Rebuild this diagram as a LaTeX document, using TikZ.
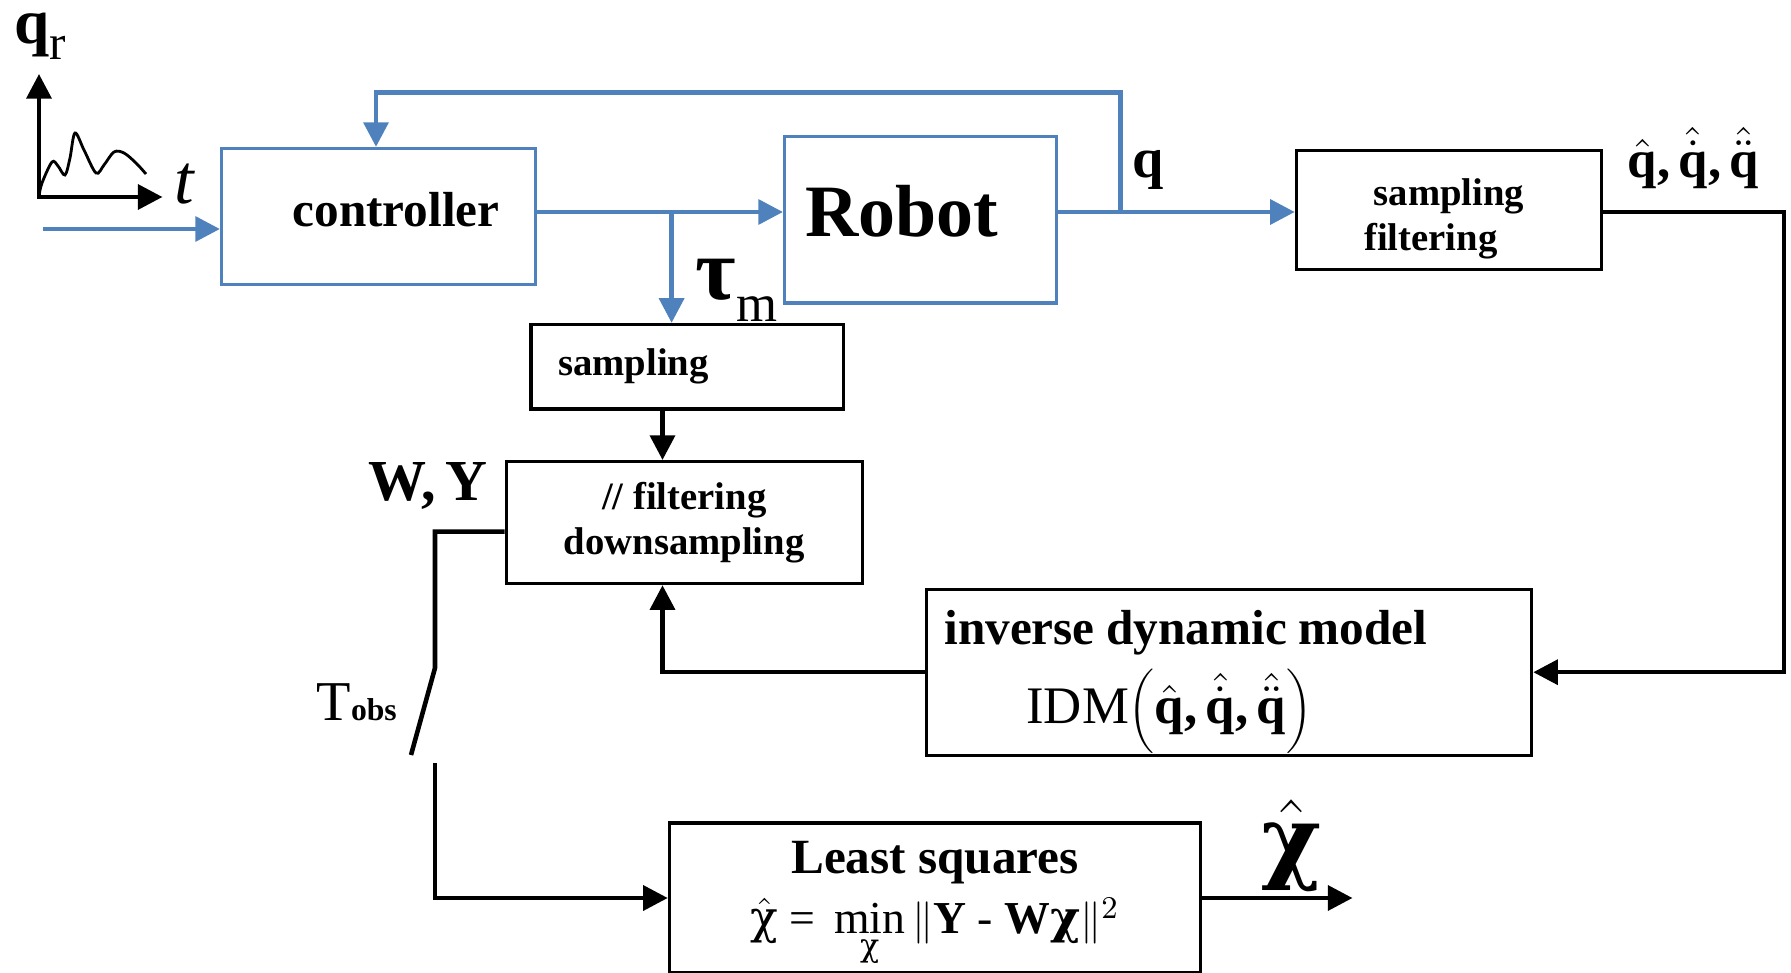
\documentclass[tikz,border=0pt]{standalone}
\usepackage{fontspec}
\setmainfont{Liberation Serif}
\newfontfamily\greekfont{DejaVu Serif}
\usetikzlibrary{arrows.meta}
\definecolor{ctrlblue}{RGB}{79,129,189}
\newcommand{\blockfont}{\fontsize{14}{17}\selectfont\bfseries}
\newcommand{\smallblockfont}{\fontsize{11}{13}\selectfont\bfseries}
\newcommand{\chisym}{{\greekfont χ}}

\begin{document}
\begin{tikzpicture}[x=0.01cm,y=-0.01cm,
    box/.style={draw,line width=0.9pt,inner sep=0pt},
    bluebox/.style={box,draw=ctrlblue},
    wire/.style={line width=1.3pt},
    blueline/.style={wire,draw=ctrlblue},
    sig/.style={wire,-{Triangle[length=7pt,width=7pt]}},
    bluesig/.style={sig,draw=ctrlblue},
    lab/.style={anchor=base west,inner sep=0pt}]
    \useasboundingbox (0,0) rectangle (1791,973);

    % Reference trajectory sketch
    \draw[wire,{Triangle[length=7pt,width=7pt]}-{Triangle[length=7pt,width=7pt]}] (39,74) -- (39,197) -- (162.5,197);
    \draw[line width=0.8pt] plot[smooth,tension=0.55] coordinates {(39,196) (42,183) (52,162) (58,166) (65,175) (70,158) (75,133) (84,150) (96,173) (104,165) (114,152) (124,153) (136,163) (146,174)};
    \node[lab] (qr) at (14,44) {{\fontsize{18}{18}\selectfont\bfseries q}{\fontsize{14}{14}\selectfont\raisebox{-4.3pt}{r}}};
    \node[lab,font=\fontsize{20}{20}\selectfont\itshape] (tlab) at (174,203) {t};

    % Control loop
    \node[bluebox,minimum width=3.14cm,minimum height=1.36cm,font=\blockfont] (ctrl) at (378.6,216.5) {\hspace*{0.35cm}\raisebox{0.14cm}{controller}};
    \node[bluebox,minimum width=2.72cm,minimum height=1.66cm,font=\fontsize{21}{24}\selectfont\bfseries] (robot) at (920.6,219.9) {\raisebox{0.18cm}{Robot}\hspace*{0.37cm}};

    % Measurement blocks
    \node[box,minimum width=3.12cm,minimum height=0.845cm,font=\smallblockfont] (samp) at (687,366.7) {sampling\hspace*{1.07cm}};
    \node[box,minimum width=3.56cm,minimum height=1.22cm,align=center,font=\smallblockfont] (filt) at (684.2,522.6) {// filtering\\downsampling};
    \node[box,minimum width=3.05cm,minimum height=1.19cm,align=center,font=\smallblockfont] (sf) at (1448.9,210.2) {\rule{0pt}{12.5pt}sampling\\filtering\hspace*{0.36cm}\mbox{}};

    % Model and estimation
    \node[box,minimum height=1.66cm,align=left,text width=5.69cm,inner xsep=0.18cm] (idm) at (1229,672.2) {\rule{0pt}{15pt}{\blockfont inverse dynamic model}\\[3pt]
        \hspace*{0.82cm}{\fontsize{15}{15}\selectfont IDM$\left(\hat{\mathbf{q}}\mbox{\bfseries,}\,\hat{\dot{\mathbf{q}}}\mbox{\bfseries,}\,\hat{\ddot{\mathbf{q}}}\right)$}};
    \node[box,minimum width=5.31cm,minimum height=1.5cm,align=center] (ls) at (935,898) {\rule{0pt}{12.5pt}{\blockfont Least squares}\\[3pt]
        {\fontsize{13}{13}\selectfont $\hat{\mbox{\chisym}}\mbox{ = }\min\limits_{\mbox{\fontsize{9}{9}\selectfont\chisym}}\|\mathbf{Y}\mbox{ - }\mathbf{W}\mbox{\bfseries\chisym}\|^2$}};

    % Signal labels
    \node[lab] (tau) at (695,299) {{\fontsize{25}{25}\selectfont\bfseries τ}\raisebox{-6.5pt}{\fontsize{15}{15}\selectfont m}};
    \node[lab,font=\fontsize{16}{16}\selectfont\bfseries] (qlab) at (1132,178) {q};
    \node[lab,font=\fontsize{15}{15}\selectfont\bfseries] (qhat) at (1627,178) {$\hat{\mathbf{q}}\mbox{,}\,\hat{\dot{\mathbf{q}}}\mbox{,}\,\hat{\ddot{\mathbf{q}}}$};
    \node[lab,font=\fontsize{16.5}{16.5}\selectfont\bfseries] (wy) at (368,500) {W,\thinspace Y};
    \node[lab] (tobs) at (316,720) {{\fontsize{16}{16}\selectfont T}{\fontsize{9}{9}\selectfont\bfseries obs}};
    \node[inner sep=0pt,font=\fontsize{26}{26}\selectfont\bfseries] (chihat) at (1292,846) {$\hat{\mbox{\chisym}}$};

    % Junctions and bends
    \coordinate (in0) at (43,229);
    \coordinate (j1) at (671.6,212);
    \coordinate (j2) at (1120.7,212);
    \coordinate (fbtop) at (376,92.5);
    \coordinate (rcol) at (1784,212);
    \coordinate (colA) at (662.5,675);
    \coordinate (swtop) at (435,668);
    \coordinate (swtip) at (411,755);
    \coordinate (swbot) at (435,763);
    \coordinate (out) at (1352.5,900);

    % Blue signal paths
    \draw[bluesig] (in0) -- (in0 -| ctrl.west);
    \draw[blueline] (ctrl.east |- j1) -- (j1);
    \draw[bluesig] (j1) -- (j1 -| robot.west);
    \draw[bluesig] (j1) -- (j1 |- samp.north);
    \draw[blueline] (robot.east |- j2) -- (j2);
    \draw[bluesig] (j2) -- (j2 -| sf.west);
    \draw[bluesig] (j2) |- (fbtop) -- (fbtop |- ctrl.north);

    % Identification paths
    \draw[sig] (sf.east |- j2) -- (rcol) |- (idm.east);
    \draw[sig] (samp.south -| colA) -- (filt.north -| colA);
    \draw[sig] (idm.west) -| (filt.south -| colA);
    \draw[wire] ([yshift=-0.09cm]filt.west) -| (swtop) -- (swtip);
    \draw[sig] (swbot) |- (ls.west);
    \draw[sig] (ls.east) -- (ls.east -| out);
\end{tikzpicture}
\end{document}
